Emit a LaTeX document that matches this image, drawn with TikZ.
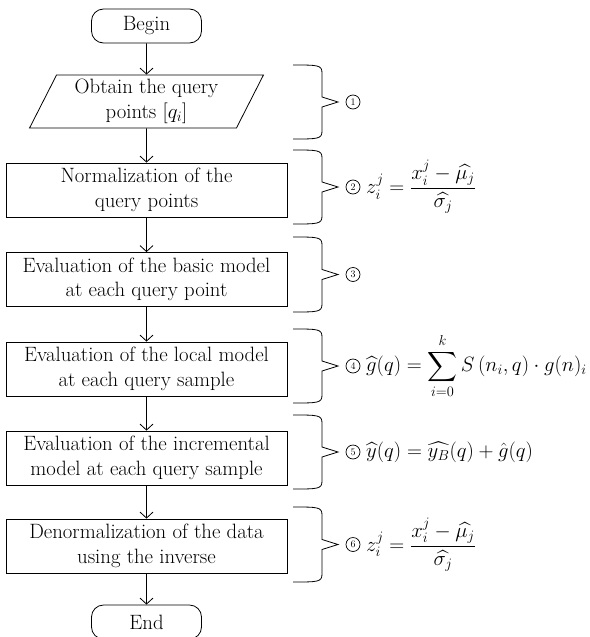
\documentclass[tikz,border=0pt]{standalone}
\usepackage{amsmath}
\usetikzlibrary{arrows.meta,shapes.geometric}
\def\sidebrace(#1:#2){\draw[brace line] (293,#1) .. controls (318,#1) and (322,#1) .. (322,#1+8) -- (322,{(#1+#2)/2-5}) -- (338,{(#1+#2)/2}) -- (322,{(#1+#2)/2+5}) -- (322,#2-8) .. controls (322,#2) and (318,#2) .. (293,#2);}

\begin{document}
\begin{tikzpicture}[x=1pt,y=-1pt,
	every node/.style={font=\fontsize{20.74}{24.5}\selectfont},
	box/.style={draw, line width=0.8pt, minimum width=281pt, minimum height=54pt, align=center, inner sep=0pt},
	term/.style={draw, line width=0.8pt, rounded corners=12pt, minimum width=110pt, minimum height=34pt, inner sep=0pt},
	io/.style={draw, line width=0.8pt, trapezium, trapezium left angle=64, trapezium right angle=116, trapezium stretches, minimum width=234pt, minimum height=53pt, align=center, inner sep=0pt},
	flow/.style={-{Straight Barb[length=6pt,width=13pt]}, line width=0.8pt},
	brace line/.style={line width=0.8pt},
	num/.style={draw, circle, line width=0.7pt, inner sep=0pt, minimum size=14pt, font=\fontsize{10}{10}\selectfont},
	formula/.style={anchor=west, inner sep=2pt}]
			%%%%% START %%%%%
			\useasboundingbox (0,0) rectangle (589,637);
			
			\node[term] (begin) at (146.5, 26) {Begin};
			\node[io] (obtain) at (146.5, 101.5) {Obtain the query\\points $[q_i]$};
			\node[box] (norm) at (146.5, 190) {Normalization of the\\query points};
			\node[box] (basic) at (146.5, 279.5) {Evaluation of the basic model\\at each query point};
			\node[box] (local) at (146.5, 369) {Evaluation of the local model\\at each query sample};
			\node[box] (incr) at (146.5, 458) {Evaluation of the incremental\\model at each query sample};
			\node[box] (denorm) at (146.5, 546) {Denormalization of the data\\using the inverse};
			\node[term] (end) at (146.5, 622) {End};
			
			\draw[flow] (begin) -- (obtain);
			\draw[flow] (obtain) -- (norm);
			\draw[flow] (norm) -- (basic);
			\draw[flow] (basic) -- (local);
			\draw[flow] (local) -- (incr);
			\draw[flow] (incr) -- (denorm);
			\draw[flow] (denorm) -- (end);
			
			\sidebrace(65:139)
			\sidebrace(150:224)
			\sidebrace(237:312)
			\sidebrace(329:403)
			\sidebrace(415:489)
			\sidebrace(507:582)
			
			\node[num] (n1) at (353, 102) {1};
			\node[num] (n2) at (353, 187) {2};
			\node[num] (n3) at (353, 274.5) {3};
			\node[num] (n4) at (353, 366) {4};
			\node[num] (n5) at (353, 452) {5};
			\node[num] (n6) at (353, 544.5) {6};
			
			\node[formula] (f2) at (364, 187) {$z_i^j = \dfrac{x_i^j - \widehat{\mu_j}}{\widehat{\sigma_j}}$};
			\node[formula] (f4) at (364, 366) {$\widehat{g}(q) = \displaystyle\sum_{i=0}^{k} S\left(n_i, q\right) \cdot g(n)_i$};
			\node[formula] (f5) at (364, 452) {$\widehat{y}(q) = \widehat{y_B}(q) + \hat{g}(q)$};
			\node[formula] (f6) at (364, 544.5) {$z_i^j = \dfrac{x_i^j - \widehat{\mu_j}}{\widehat{\sigma_j}}$};
			
			%%%%% END %%%%%
\end{tikzpicture}
\end{document}
